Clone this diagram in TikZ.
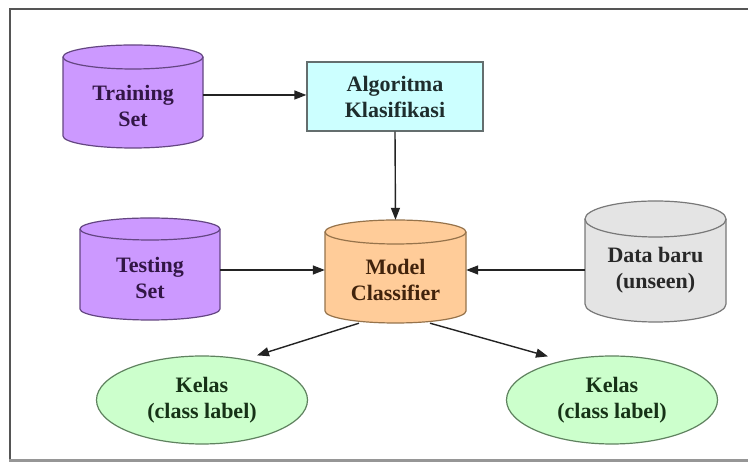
\documentclass[tikz,border=0pt]{standalone}
\usepackage{fontspec}
\setmainfont{Liberation Serif}[BoldFont={Liberation Serif Bold}]
\usetikzlibrary{arrows.meta,calc,shapes.geometric}
\definecolor{purfill}{RGB}{204,153,255}
\definecolor{purdraw}{RGB}{100,70,130}
\definecolor{purtext}{RGB}{50,22,70}
\definecolor{cyanfill}{RGB}{204,255,255}
\definecolor{cyandraw}{RGB}{100,110,110}
\definecolor{cyantext}{RGB}{30,45,45}
\definecolor{orgfill}{RGB}{255,204,153}
\definecolor{orgdraw}{RGB}{150,115,75}
\definecolor{orgtext}{RGB}{65,35,12}
\definecolor{gryfill}{RGB}{228,228,228}
\definecolor{grydraw}{RGB}{120,120,120}
\definecolor{grytext}{RGB}{40,40,40}
\definecolor{grnfill}{RGB}{204,255,204}
\definecolor{grndraw}{RGB}{95,130,95}
\definecolor{grntext}{RGB}{22,50,22}
\definecolor{arrowcol}{RGB}{35,35,35}
\newcommand{\dbcyl}[7]{% name, cx, halfwidth, ytop, ybottom, ry, style
  \path[#7] (#2-#3,#4-#6) -- (#2-#3,#5+#6)
    arc[start angle=180,end angle=360,x radius=#3,y radius=#6]
    -- (#2+#3,#4-#6)
    arc[start angle=0,end angle=180,x radius=#3,y radius=#6] -- cycle;
  \draw[#7,fill=none] (#2-#3,#4-#6) arc[start angle=180,end angle=360,x radius=#3,y radius=#6];
  \node[inner sep=0pt,minimum width=2*#3 bp,minimum height=(#4-#5)*1bp] (#1) at (#2,{(#4+#5)/2}) {};
}
\begin{document}
\begin{tikzpicture}[x=1bp,y=1bp,
  lbl/.style={font=\fontsize{22bp}{26bp}\bfseries\selectfont,align=center,inner sep=0pt},
  purcyl/.style={fill=purfill,draw=purdraw,line width=1.2bp},
  orgcyl/.style={fill=orgfill,draw=orgdraw,line width=1.2bp},
  grycyl/.style={fill=gryfill,draw=grydraw,line width=1.2bp},
  algobox/.style={fill=cyanfill,draw=cyandraw,line width=1.3bp,minimum width=176bp,minimum height=69bp,inner sep=0pt},
  kelasell/.style={ellipse,fill=grnfill,draw=grndraw,line width=1.2bp,minimum width=211bp,minimum height=88bp,inner sep=0pt},
  conn/.style={draw=arrowcol,line width=1.4bp,-{Triangle[length=12bp,width=9bp]}}]
\useasboundingbox (0,0) rectangle (748,464);
\clip (0,0) rectangle (748,464);
\fill[white] (0,0) rectangle (748,464);
% frame
\draw[draw={rgb,255:red,85;green,85;blue,85},line width=1.6bp] (760,455) -- (10,455) -- (10,3);
\draw[draw={rgb,255:red,150;green,150;blue,150},line width=3bp] (9.2,3) -- (760,3);
% cylinders
\dbcyl{train}{133}{70}{419}{316}{12}{purcyl}
\node[lbl,text=purtext] (trainT) at ([yshift=-9bp]train.center) {Training\\Set};
\dbcyl{test}{150}{70}{246}{144}{11}{purcyl}
\node[lbl,text=purtext] (testT) at ([yshift=-9bp]test.center) {Testing\\Set};
\dbcyl{model}{395.5}{70.5}{244}{141}{12}{orgcyl}
\node[lbl,text=orgtext] (modelT) at ([yshift=-8.5bp]model.center) {Model\\Classifier};
\dbcyl{data}{655.5}{70.5}{263}{142}{18}{grycyl}
\node[lbl,text=grytext] (dataT) at ([yshift=-8.5bp]data.center) {Data baru\\(unseen)};
% box
\node[algobox] (algo) at (395,367.5) {};
\node[lbl,text=cyantext] (algoT) at (algo.center) {Algoritma\\Klasifikasi};
% ellipses
\node[kelasell] (kelasL) at (202,64) {};
\node[lbl,text=grntext] (kelasLT) at (kelasL.center) {Kelas\\(class label)};
\node[kelasell] (kelasR) at (612,64) {};
\node[lbl,text=grntext] (kelasRT) at (kelasR.center) {Kelas\\(class label)};
% connectors
\draw[conn] ([yshift=1.5bp]train.east) -- ([yshift=1.5bp]train.east -| algo.west);
\draw[conn] (algo.south) -- (model.north);
\draw[conn] ([yshift=-1bp]test.east) -- ([yshift=-1bp]test.east -| model.west);
\draw[conn] ([yshift=-8.5bp]data.west) -- ([yshift=-8.5bp]data.west -| model.east);
\draw[conn] ([xshift=-36.5bp]model.south) -- ([xshift=55bp]kelasL.north);
\draw[conn] ([xshift=34.5bp]model.south) -- ([xshift=-64bp,yshift=-1bp]kelasR.north);
\end{tikzpicture}
\end{document}
